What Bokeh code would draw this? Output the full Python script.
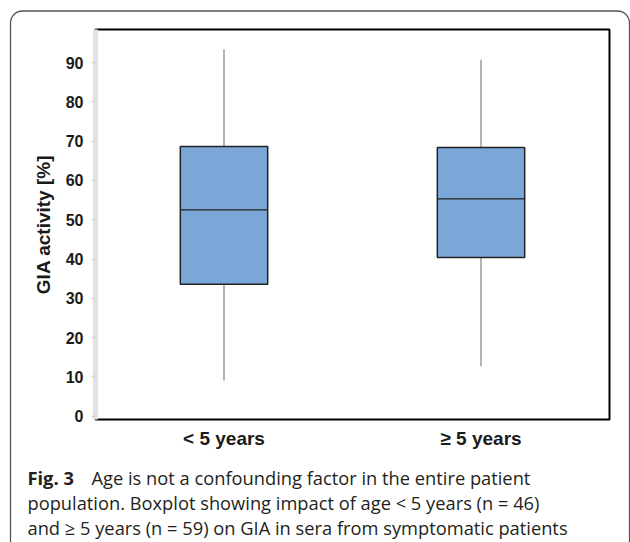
from urllib.parse import quote
from bokeh.plotting import figure
from bokeh.layouts import column
from bokeh.models import Label, FactorRange, Range1d, FixedTicker, ColumnDataSource, Plot, Div
from bokeh.embed import file_html
from bokeh.resources import INLINE

# ---- data ----
categories = ["< 5 years", "\u2265 5 years"]
whisker_low = [9.1, 12.7]
q1 = [33.6, 40.4]
median = [52.5, 55.3]
q3 = [68.6, 68.4]
whisker_high = [93.4, 90.7]
y_ticks = [0, 10, 20, 30, 40, 50, 60, 70, 80, 90]

caption_bold = "Fig. 3"
caption_line1 = "Age is not a confounding factor in the entire patient"
caption_line2 = "population. Boxplot showing impact of age < 5 years (n = 46)"
caption_line3 = "and \u2265 5 years (n = 59) on GIA in sera from symptomatic patients"

src = ColumnDataSource(dict(cat=categories, lo=whisker_low, q1=q1, med=median, q3=q3, hi=whisker_high))

W, H_PLOT, H_CAP = 630, 452, 90
p = figure(x_range=FactorRange(factors=categories), y_range=Range1d(-0.84, 98.4),
           width=W, height=H_PLOT, output_backend="svg", toolbar_location=None,
           min_border_left=95, min_border_right=21, min_border_top=29, min_border_bottom=33)
p.background_fill_color = "white"
p.border_fill_color = None
p.xgrid.visible = False
p.ygrid.visible = False
p.outline_line_color = "black"
p.outline_line_width = 2

# whiskers
p.segment(x0="cat", y0="q3", x1="cat", y1="hi", source=src, line_color="#777777", line_width=1.1)
p.segment(x0="cat", y0="lo", x1="cat", y1="q1", source=src, line_color="#777777", line_width=1.1)
# boxes
p.vbar(x="cat", top="q3", bottom="q1", width=0.34, source=src, fill_color="#7BA6D8",
       line_color="#222222", line_width=1.5)
# medians
p.vbar(x="cat", top="med", bottom="med", width=0.34, source=src, fill_color=None,
       line_color="#222222", line_width=1.1)

ya = p.yaxis[0]
ya.ticker = FixedTicker(ticks=y_ticks)
ya.axis_line_color = "#e2e2e2"
ya.axis_line_width = 5
ya.major_tick_line_color = "#d8d8d8"
ya.major_tick_line_width = 2
ya.major_tick_out = 4
ya.major_tick_in = 0
ya.minor_tick_line_color = None
ya.major_label_text_font = "Liberation Sans"
ya.major_label_text_font_style = "bold"
ya.major_label_text_font_size = "16px"
ya.major_label_text_color = "#1a1a1a"
ya.major_label_standoff = 8
ya.axis_label = "GIA activity [%]"
ya.axis_label_text_font = "Liberation Sans"
ya.axis_label_text_font_style = "bold"
ya.axis_label_text_font_size = "19px"
ya.axis_label_text_color = "#1a1a1a"
ya.axis_label_standoff = 9

xa = p.xaxis[0]
xa.axis_line_color = None
xa.major_tick_line_color = None
xa.minor_tick_line_color = None
xa.major_label_text_font = "Liberation Sans"
xa.major_label_text_font_style = "bold"
xa.major_label_text_font_size = "19px"
xa.major_label_text_color = "#1a1a1a"
xa.major_label_standoff = 2

if "frame_align" in Plot.properties():
    # caption panel: a bare figure whose frame fills the whole canvas
    p.frame_align = False
    cap = figure(width=W, height=H_CAP, output_backend="svg", toolbar_location=None,
                 x_range=Range1d(0, 1), y_range=Range1d(0, 1),
                 x_axis_location=None, y_axis_location=None,
                 min_border_left=0, min_border_right=0, min_border_top=0, min_border_bottom=0)
    cap.frame_align = False
    cap.xgrid.visible = False
    cap.ygrid.visible = False
    cap.outline_line_color = None
    cap.background_fill_color = None
    cap.border_fill_color = None
    lab_kw = dict(x_units="screen", y_units="screen", text_font="Open Sans", text_font_size="18.3px",
                  text_color="#231f20", text_baseline="alphabetic")
    cap.add_layout(Label(x=27, y=65, text=caption_bold, text_font_style="bold", **lab_kw))
    cap.add_layout(Label(x=91, y=65, text=caption_line1, **lab_kw))
    cap.add_layout(Label(x=27, y=40, text=caption_line2, **lab_kw))
    cap.add_layout(Label(x=27, y=15, text=caption_line3, **lab_kw))
else:
    html = ("<div style=\"font-family:'Open Sans';font-size:18.3px;line-height:25px;color:#231f20;"
            "white-space:nowrap;padding:5px 0 0 27px;\">"
            "<span style='display:inline-block;width:64px;font-weight:bold'>" + caption_bold + "</span>"
            + caption_line1 + "<br>" + caption_line2.replace("<", "&lt;") + "<br>" + caption_line3 + "</div>")
    cap = Div(text=html, width=W, height=H_CAP)

# rounded outer border of the whole panel (page decoration, drawn as host background)
border_svg = ("<svg xmlns='http://www.w3.org/2000/svg' width='630' height='542'>"
              "<rect x='10.5' y='11' width='619' height='548' rx='12' ry='12' fill='none' "
              "stroke='#555555' stroke-width='1.3'/></svg>")
layout = column(p, cap, spacing=0)
layout.styles = {"background-color": "white",
                 "background-image": 'url("data:image/svg+xml,' + quote(border_svg) + '")',
                 "background-repeat": "no-repeat"}

open("out.html", "w").write(file_html(layout, INLINE))
